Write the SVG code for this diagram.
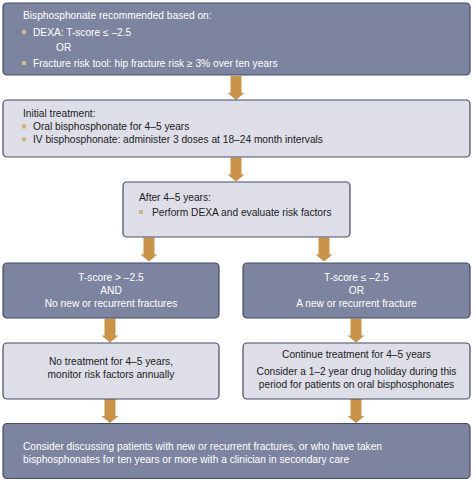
<svg xmlns="http://www.w3.org/2000/svg" width="474" height="484" viewBox="0 0 474 484">
<style>
.dark{fill:#7d849f;stroke:#454a66;stroke-width:1.2}
.light{fill:#dddee7;stroke:#454a66;stroke-width:1.2}
text{font-family:"Liberation Sans",Arial,sans-serif;font-size:10.2px}
.tw{fill:#ffffff}
.tk{fill:#222222}
.c{text-anchor:middle}
.bd{fill:#d6b98e}
.bl{fill:#d2b184}
.arrow{fill:#c99349}
</style>
<defs>
<path id="arr" d="M-5.5,0 H5.5 V17 H8.5 L0,24 L-8.5,17 H-5.5 Z"/>
</defs>
<rect width="474" height="484" fill="#ffffff"/>
<g id="connectors" class="arrow">
<use href="#arr" x="236" y="76"/>
<use href="#arr" x="236" y="157.5"/>
<use href="#arr" x="149" y="237.5"/>
<use href="#arr" x="324" y="237.5"/>
<use href="#arr" x="110" y="318.5"/>
<use href="#arr" x="356" y="318.5"/>
<use href="#arr" x="110" y="399"/>
<use href="#arr" x="356" y="399"/>
</g>
<g id="node-recommend">
<rect class="dark" x="3" y="3" width="467" height="72" rx="4"/>
<text class="tw" x="23" y="19.3">Bisphosphonate recommended based on:</text>
<rect class="bd" x="22" y="30" width="4" height="4"/>
<text class="tw" x="33" y="35.7">DEXA: T-score ≤ –2.5</text>
<text class="tw" x="56" y="50.7">OR</text>
<rect class="bd" x="22" y="61" width="4" height="4"/>
<text class="tw" x="33" y="66.7">Fracture risk tool: hip fracture risk ≥ 3% over ten years</text>
</g>
<g id="node-initial">
<rect class="light" x="3" y="100" width="467" height="57" rx="4"/>
<text class="tk" x="23" y="116.7">Initial treatment:</text>
<rect class="bl" x="22" y="124.5" width="4" height="4"/>
<text class="tk" x="33" y="130">Oral bisphosphonate for 4–5 years</text>
<rect class="bl" x="22" y="137.5" width="4" height="4"/>
<text class="tk" x="33" y="143">IV bisphosphonate: administer 3 doses at 18–24 month intervals</text>
</g>
<g id="node-after">
<rect class="light" x="123" y="182" width="227" height="55" rx="4"/>
<text class="tk" x="139" y="200.7">After 4–5 years:</text>
<rect class="bl" x="139" y="210" width="4" height="4"/>
<text class="tk" x="152" y="216">Perform DEXA and evaluate risk factors</text>
</g>
<g id="node-tscore-high">
<rect class="dark" x="3" y="263" width="216" height="55" rx="4"/>
<text class="tw c" x="111" y="280.7">T-score &gt; –2.5</text>
<text class="tw c" x="111" y="293.5">AND</text>
<text class="tw c" x="111" y="306.7">No new or recurrent fractures</text>
</g>
<g id="node-tscore-low">
<rect class="dark" x="243" y="263" width="227" height="55" rx="4"/>
<text class="tw c" x="356.5" y="280.7">T-score ≤ –2.5</text>
<text class="tw c" x="356.5" y="293.5">OR</text>
<text class="tw c" x="356.5" y="306.7">A new or recurrent fracture</text>
</g>
<g id="node-no-treatment">
<rect class="light" x="3" y="343" width="216" height="56" rx="4"/>
<text class="tk c" x="111" y="365">No treatment for 4–5 years,</text>
<text class="tk c" x="111" y="378.3">monitor risk factors annually</text>
</g>
<g id="node-continue">
<rect class="light" x="243" y="343" width="227" height="56" rx="4"/>
<text class="tk c" x="356.5" y="358">Continue treatment for 4–5 years</text>
<text class="tk c" x="356.5" y="375">Consider a 1–2 year drug holiday during this</text>
<text class="tk c" x="356.5" y="388.3">period for patients on oral bisphosphonates</text>
</g>
<g id="node-discuss">
<rect class="dark" x="3" y="423.5" width="467" height="55" rx="4"/>
<text class="tw" x="23" y="450">Consider discussing patients with new or recurrent fractures, or who have taken</text>
<text class="tw" x="23" y="463">bisphosphonates for ten years or more with a clinician in secondary care</text>
</g>
</svg>
